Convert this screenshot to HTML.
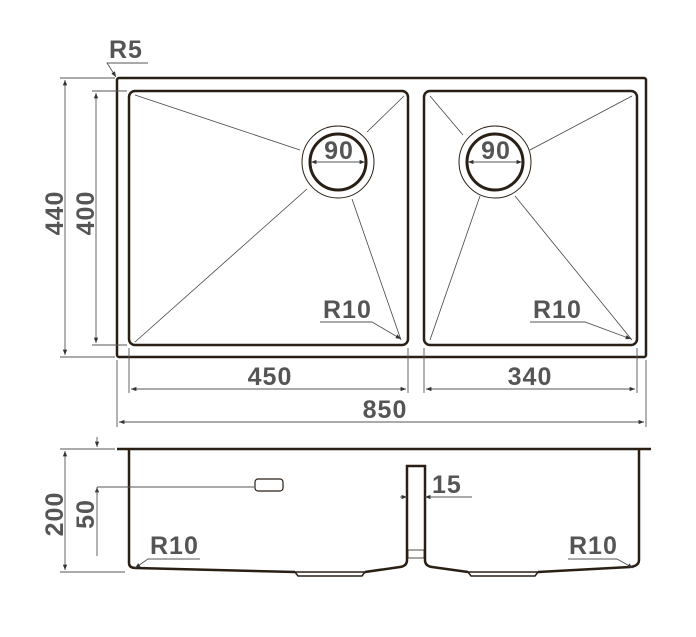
<!DOCTYPE html>
<html><head><meta charset="utf-8"><style>
html,body{margin:0;padding:0;background:#fff;}
svg{display:block;}
text{font-family:"Liberation Sans",sans-serif;font-weight:bold;fill:#555;font-size:25px;letter-spacing:1px;}
</style></head><body>
<svg width="696" height="637" viewBox="0 0 696 637" xmlns="http://www.w3.org/2000/svg">
<defs>
<marker id="a" viewBox="0 0 10 10" refX="10" refY="5" markerWidth="6" markerHeight="6" orient="auto-start-reverse"><path d="M0,1 L10,5 L0,9 z" fill="#333"/></marker>
</defs>
<g fill="none" stroke="#2a1f14">
<rect x="117" y="78" width="529" height="279" rx="2" stroke-width="2.5"/>
<rect x="129" y="91" width="279" height="254" rx="6" stroke-width="2.5"/>
<rect x="424" y="91" width="213" height="254" rx="6" stroke-width="2.5"/>
<circle cx="338" cy="162" r="36" stroke-width="1"/>
<circle cx="338" cy="162" r="28" stroke-width="3"/>
<circle cx="495" cy="162" r="36" stroke-width="1"/>
<circle cx="495" cy="162" r="28" stroke-width="3"/>
<g stroke-width="0.8" stroke="#444">
<line x1="135" y1="95" x2="300" y2="150"/>
<line x1="404" y1="96" x2="367" y2="132"/>
<line x1="135" y1="342" x2="307" y2="189"/>
<line x1="401" y1="340" x2="352" y2="199"/>
<line x1="430" y1="96" x2="463" y2="135"/>
<line x1="632" y1="96" x2="530" y2="150"/>
<line x1="430" y1="340" x2="480" y2="196"/>
<line x1="632" y1="340" x2="515" y2="196"/>
</g>
<g stroke-width="0.9" stroke="#555">
<line x1="311" y1="162" x2="365" y2="162" marker-start="url(#a)" marker-end="url(#a)"/>
<line x1="468" y1="162" x2="522" y2="162" marker-start="url(#a)" marker-end="url(#a)"/>
<line x1="60" y1="78" x2="115" y2="78"/><line x1="60" y1="357" x2="115" y2="357"/>
<line x1="65" y1="80" x2="65" y2="355" marker-start="url(#a)" marker-end="url(#a)"/>
<line x1="92" y1="91" x2="127" y2="91"/><line x1="92" y1="345" x2="127" y2="345"/>
<line x1="96" y1="93" x2="96" y2="343" marker-start="url(#a)" marker-end="url(#a)"/>
<line x1="129" y1="348" x2="129" y2="393"/><line x1="408" y1="348" x2="408" y2="393"/>
<line x1="424" y1="348" x2="424" y2="393"/><line x1="637" y1="348" x2="637" y2="393"/>
<line x1="131" y1="389" x2="406" y2="389" marker-start="url(#a)" marker-end="url(#a)"/>
<line x1="426" y1="389" x2="635" y2="389" marker-start="url(#a)" marker-end="url(#a)"/>
<line x1="117" y1="360" x2="117" y2="427"/><line x1="646" y1="360" x2="646" y2="427"/>
<line x1="119" y1="422" x2="644" y2="422" marker-start="url(#a)" marker-end="url(#a)"/>
<polyline points="148,63 107,63 116,77" marker-end="url(#a)"/>
<polyline points="320,322 372,322 401,339" marker-end="url(#a)"/>
<polyline points="530,322 585,322 631,339" marker-end="url(#a)"/>
</g>
<line x1="117" y1="449" x2="651" y2="449" stroke-width="2.5"/>
<path d="M129,449 V563 Q129,568 136,568 L295,572 M365,572 L400,567 Q407,566 407,560 V466 H425 V560 Q425,566 432,567 L468,572 M538,572 L630,567 Q639,566 639,560 V449" stroke-width="2.5"/>
<path d="M295,572 L298,576 H362 L365,572 Z M468,572 L471,576 H535 L538,572 Z" stroke-width="1.5"/>
<rect x="408" y="550" width="16" height="8" stroke-width="0.8"/>
<rect x="255" y="479" width="28" height="12" rx="3" stroke-width="1.2"/>
<g stroke-width="0.9" stroke="#555">
<line x1="60" y1="449" x2="115" y2="449"/><line x1="60" y1="572" x2="125" y2="572"/>
<line x1="65" y1="451" x2="65" y2="570" marker-start="url(#a)" marker-end="url(#a)"/>
<line x1="97" y1="437" x2="97" y2="447" marker-end="url(#a)"/>
<line x1="97" y1="495" x2="97" y2="487" marker-end="url(#a)"/>
<line x1="97" y1="487" x2="97" y2="556"/>
<line x1="97" y1="487" x2="254" y2="487"/>
<line x1="400" y1="497" x2="407" y2="497" marker-end="url(#a)"/>
<line x1="472" y1="497" x2="425" y2="497" marker-end="url(#a)"/>
<polyline points="200,559 148,559 135,568" marker-end="url(#a)"/>
<polyline points="568,559 617,559 633,568" marker-end="url(#a)"/>
</g>
</g>
<text x="109" y="58">R5</text>
<text x="339" y="159" text-anchor="middle" font-size="23">90</text>
<text x="496" y="159" text-anchor="middle" font-size="23">90</text>
<text x="323" y="318">R10</text>
<text x="533" y="318">R10</text>
<text x="270" y="385" text-anchor="middle">450</text>
<text x="530" y="385" text-anchor="middle">340</text>
<text x="385" y="418" text-anchor="middle">850</text>
<text transform="translate(63,213) rotate(-90)" text-anchor="middle" font-size="27">440</text>
<text transform="translate(94,213) rotate(-90)" text-anchor="middle" font-size="27">400</text>
<text transform="translate(63,514) rotate(-90)" text-anchor="middle" font-size="27">200</text>
<text transform="translate(94,514) rotate(-90)" text-anchor="middle" font-size="27">50</text>
<text x="432" y="493">15</text>
<text x="150" y="554">R10</text>
<text x="569" y="554">R10</text>
</svg>
</body></html>
